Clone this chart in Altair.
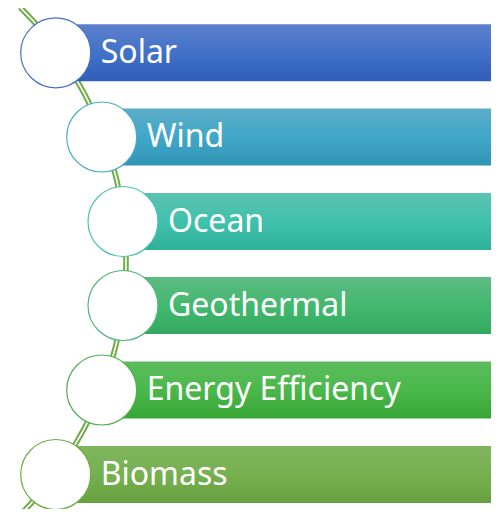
import altair as alt
import pandas as pd

# Diagram content
labels = ["Solar", "Wind", "Ocean", "Geothermal", "Energy Efficiency", "Biomass"]
circle_x = [55.7, 101.7, 123, 123, 101.7, 55.7]
row_y = [52.8, 137, 221.5, 305.5, 390, 474.5]
bar_end = 499
top_colors = ["#5D80CC", "#5CADC8", "#5CC2B1", "#5DBB83", "#5CBC5E", "#80B55F"]
mid_colors = ["#4171C8", "#40A7C9", "#3FC1AC", "#43B86F", "#4AB84A", "#76B04F"]
bot_colors = ["#2E5EB8", "#3094B4", "#2FB09A", "#33AA60", "#37A635", "#68A040"]
stroke_colors = ["#4472C4", "#4BACC6", "#4BC3B0", "#4DB878", "#4CB04C", "#6AAE45"]

# guide arc (center)
arc_cx = [-231]
arc_cy = [261]

df = pd.DataFrame({
    "label": labels,
    "cx": circle_x,
    "y": row_y,
    "bx": [c + 5 for c in circle_x],
    "bx2": [bar_end] * len(labels),
    "tx": [c + 45 for c in circle_x],
    "stroke": stroke_colors,
})
arc_df = pd.DataFrame({"x": arc_cx, "y": arc_cy})

W, H = 483, 501
xs = alt.Scale(domain=[8, 8 + W], nice=False, zero=False, padding=0)
ys = alt.Scale(domain=[8, 8 + H], nice=False, zero=False, reverse=True, padding=0)
X = lambda f: alt.X(f, type="quantitative", scale=xs, axis=None)
Y = lambda f: alt.Y(f, type="quantitative", scale=ys, axis=None)

green = "#70AD47"
arc_outer = alt.Chart(arc_df).mark_arc(
    radius=359.8, radius2=354.2, theta=0.78, theta2=2.42, fill=green
).encode(x=X("x"), y=Y("y"))
arc_inner = alt.Chart(arc_df).mark_arc(
    radius=357.8, radius2=356.2, theta=0.775, theta2=2.43, fill="white"
).encode(x=X("x"), y=Y("y"))

layers = [arc_outer, arc_inner]
for i, lab in enumerate(labels):
    grad = alt.Gradient(
        gradient="linear",
        stops=[
            alt.GradientStop(color=top_colors[i], offset=0),
            alt.GradientStop(color=mid_colors[i], offset=0.5),
            alt.GradientStop(color=bot_colors[i], offset=1),
        ],
        x1=0, x2=0, y1=0, y2=1,
    )
    bar = alt.Chart(df).transform_filter(alt.datum.label == lab).mark_bar(
        fill=grad, height=57, clip=True
    ).encode(x=X("bx"), x2="bx2", y=Y("y"))
    layers.append(bar)

circles = alt.Chart(df).mark_point(
    shape="circle", size=4900, filled=False, fill="white", fillOpacity=1, strokeWidth=1.2, opacity=1
).encode(x=X("cx"), y=Y("y"), stroke=alt.Stroke("stroke:N", scale=None))

texts = alt.Chart(df).mark_text(
    align="left", baseline="alphabetic", dy=10, font="Noto Sans", fontSize=32, color="white"
).encode(x=X("tx"), y=Y("y"), text="label:N")

chart = alt.layer(*layers, circles, texts).properties(
    width=W, height=H, padding=0, autosize=alt.AutoSizeParams(type="none")
).configure_view(stroke=None)

chart.save("out.html", embed_options={"renderer": "svg", "actions": False})
